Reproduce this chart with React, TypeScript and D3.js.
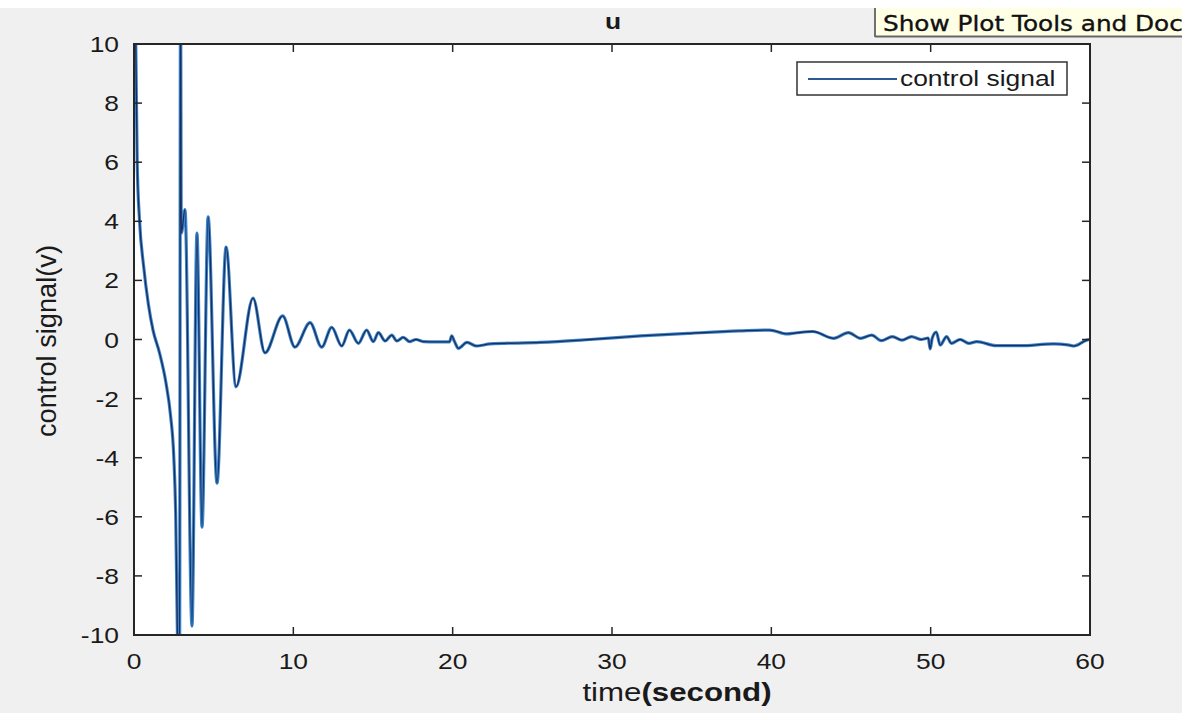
import React from 'react';
import * as d3 from 'd3';

// control signal u(t)
const times = [
  0.02, 0.2, 0.35, 0.6, 0.9, 1.2, 1.6, 2.0, 2.3, 2.5, 2.62, 2.72, 2.78, 2.86, 2.92, 2.97,
  3.2, 3.64, 3.95, 4.27, 4.65, 5.21, 5.78, 6.4, 7.47, 8.22, 9.33, 10.1, 11.05, 11.78,
  12.41, 13.04, 13.52, 14.08, 14.6, 15.02, 15.34, 15.76, 16.18, 16.49, 16.9, 17.3, 17.7,
  18.16, 19.0, 19.8, 19.94, 20.1, 20.36, 20.9, 21.5, 22.35, 25.5, 28.6, 31.8, 34.9, 38.0,
  39.9, 40.97, 41.5, 42.6, 43.9, 44.84, 45.6, 46.3, 46.9, 47.6, 48.2, 48.8, 49.4, 49.85,
  49.97, 50.1, 50.35, 50.6, 51.0, 51.3, 51.85, 52.4, 52.9, 54.1, 55.6, 57.7, 58.6, 59.0,
  59.8, 60.0,
];
const control = [
  14, 6.0, 4.0, 2.5, 1.2, 0.3, -0.45, -1.45, -2.6, -4.0, -6.0, -9.8, -11, -11, 12, 3.6,
  4.4, -9.7, 3.6, -6.35, 4.15, -4.86, 3.13, -1.6, 1.4, -0.45, 0.8, -0.26, 0.57, -0.26,
  0.41, -0.22, 0.32, -0.13, 0.32, -0.07, 0.23, -0.05, 0.15, -0.05, 0.07, -0.07, 0.0,
  -0.07, -0.08, -0.08, 0.12, -0.05, -0.3, -0.1, -0.22, -0.15, -0.1, 0.0, 0.12, 0.21, 0.29,
  0.32, 0.19, 0.22, 0.27, 0.04, 0.23, 0.04, 0.15, -0.04, 0.1, -0.02, 0.1, 0.0, 0.05,
  -0.32, 0.05, 0.25, -0.19, 0.1, -0.13, 0.0, -0.13, -0.07, -0.21, -0.21, -0.15, -0.18, -0.22,
  -0.02, 0.0,
];
const xTicks = [0, 10, 20, 30, 40, 50, 60];
const yTicks = [-10, -8, -6, -4, -2, 0, 2, 4, 6, 8, 10];

const W = 1182;
const H = 713;
const plot = { left: 134, right: 1090, top: 44, bottom: 635 };
const sx = 1.2; // the screenshot is stretched horizontally
const font = 'Liberation Sans, Arial, sans-serif';

function Label(props: { x: number; y: number; anchor?: string; size: number; weight?: string; rotate?: boolean; length?: number; children: any }) {
  const { x, y, anchor, size, weight, rotate, length, children } = props;
  return (
    <g transform={`translate(${x},${y}) scale(${sx},1)${rotate ? ' rotate(-90)' : ''}`}>
      <text
        textAnchor={anchor || 'middle'}
        fontFamily={font}
        fontSize={size}
        fontWeight={weight || 'normal'}
        fill="#1a1a1a"
        textLength={length}
        lengthAdjust={length ? 'spacingAndGlyphs' : undefined}
      >
        {children}
      </text>
    </g>
  );
}

export default function App() {
  const x = d3.scaleLinear().domain([0, 60]).range([plot.left, plot.right]);
  const y = d3.scaleLinear().domain([-10, 10]).range([plot.bottom, plot.top]);

  const pts: [number, number][] = times.map((t, i) => [t, control[i]]);
  const line = d3.line<[number, number]>()
    .x(d => x(d[0]))
    .y(d => y(d[1]))
    .curve(d3.curveMonotoneX);
  const path = line(pts) || '';

  const tick = 8;

  return (
    <svg width={W} height={H} style={{ position: 'absolute', left: 0, top: 0 }}>
      <defs>
        <clipPath id="plotClip">
          <rect x={plot.left} y={plot.top} width={plot.right - plot.left} height={plot.bottom - plot.top} />
        </clipPath>
      </defs>
      <rect x={0} y={0} width={W} height={H} fill="#f0f0f0" />
      <rect x={0} y={0} width={W} height={8} fill="#ffffff" />

      {/* tooltip, cut off by the window edge as in the screenshot */}
      <rect x={875} y={8} width={W - 875} height={28} fill="#ffffe6" />
      <line x1={875} y1={8} x2={875} y2={37} stroke="#444" strokeWidth={1.5} />
      <line x1={875} y1={36.5} x2={W} y2={36.5} stroke="#666" strokeWidth={2} />
      <g transform={`translate(883,31) scale(${sx},1)`}>
        <text fontFamily="DejaVu Sans, sans-serif" fontSize={20.6} fill="#111" stroke="#111" strokeWidth={0.35}>Show Plot Tools and Dock</text>
      </g>

      {/* title */}
      <Label x={613} y={29} size={22} weight="bold">u</Label>

      {/* plot area */}
      <rect x={plot.left} y={plot.top} width={plot.right - plot.left} height={plot.bottom - plot.top} fill="#ffffff" />

      <g clipPath="url(#plotClip)" fill="none" strokeLinejoin="round">
        <path d={path} stroke="#3a86cc" strokeWidth={3.2} />
        <path d={path} stroke="#1c2d5c" strokeWidth={1.3} />
      </g>

      {/* ticks */}
      <g stroke="#262626" strokeWidth={1.5}>
        {xTicks.map(t => (
          <g key={'xt' + t}>
            <line x1={x(t)} x2={x(t)} y1={plot.bottom} y2={plot.bottom - tick} />
            <line x1={x(t)} x2={x(t)} y1={plot.top} y2={plot.top + tick} />
          </g>
        ))}
        {yTicks.map(t => (
          <g key={'yt' + t}>
            <line x1={plot.left} x2={plot.left + tick} y1={y(t)} y2={y(t)} />
            <line x1={plot.right} x2={plot.right - tick} y1={y(t)} y2={y(t)} />
          </g>
        ))}
      </g>
      <rect x={plot.left} y={plot.top} width={plot.right - plot.left} height={plot.bottom - plot.top} fill="none" stroke="#262626" strokeWidth={2} />

      {/* tick labels */}
      {xTicks.map(t => (
        <Label key={'xl' + t} x={x(t)} y={669} size={22}>{String(t)}</Label>
      ))}
      {yTicks.map(t => (
        <Label key={'yl' + t} x={119} y={y(t) + 8} size={22} anchor="end">{String(t)}</Label>
      ))}

      {/* axis labels */}
      <g transform={`translate(677,701) scale(1.25,1)`}>
        <text textAnchor="middle" fontFamily={font} fontSize={25} fill="#1a1a1a">
          time<tspan fontWeight="bold">(second)</tspan>
        </text>
      </g>
      <Label x={56} y={341} size={23} rotate length={192}>control signal(v)</Label>

      {/* legend */}
      <rect x={797} y={62} width={270} height={33} fill="#ffffff" stroke="#333" strokeWidth={1.5} />
      <line x1={808} x2={897} y1={79} y2={79} stroke="#3a86cc" strokeWidth={2.2} />
      <line x1={808} x2={897} y1={79} y2={79} stroke="#1c2d5c" strokeWidth={1} />
      <Label x={900} y={86} size={22} anchor="start">control signal</Label>
    </svg>
  );
}
